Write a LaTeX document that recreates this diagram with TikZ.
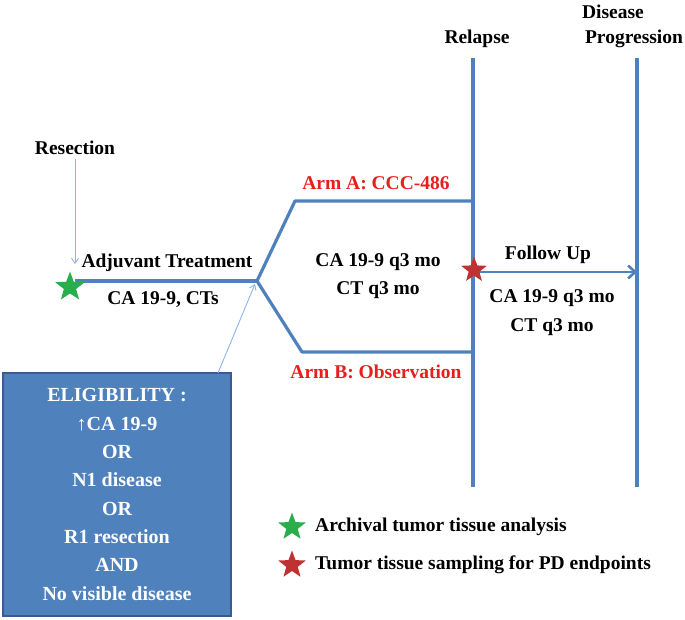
\documentclass[tikz,border=0pt]{standalone}
\usepackage{fontspec}
\setmainfont{Liberation Serif}
\usetikzlibrary{shapes.geometric,arrows.meta}
\definecolor{mainblue}{RGB}{79,129,189}
\definecolor{boxedge}{RGB}{56,93,138}
\definecolor{thinblue}{RGB}{142,180,227}
\definecolor{armred}{RGB}{230,30,30}
\definecolor{stargreen}{RGB}{40,175,75}
\definecolor{starred}{RGB}{190,50,50}
\tikzset{
  lbl/.style={font=\fontsize{19.5}{22}\selectfont\bfseries, inner sep=0pt, anchor=center},
  redlbl/.style={lbl, text=armred},
  mainline/.style={draw=mainblue, line width=3.2pt, line join=round},
  thinarrow/.style={draw=thinblue, line width=0.9pt, -{Straight Barb[length=5pt,width=7pt]}},
  starmark/.style={star, star points=5, star point ratio=2.4, minimum size=30pt, inner sep=0pt, draw=none},
  eligbox/.style={rectangle, fill=mainblue, draw=boxedge, line width=1.5pt, minimum width=228pt, minimum height=243pt, text=white, align=center, font=\fontsize{20}{28.3}\selectfont\bfseries}
}
\begin{document}
\begin{tikzpicture}[x=1pt,y=-1pt]
\useasboundingbox (0,0) rectangle (685,620);

% coordinates
\coordinate (start) at (75,281);
\coordinate (split) at (257,281);
\coordinate (aup) at (295,201);
\coordinate (aend) at (473,201);
\coordinate (bdn) at (302,352);
\coordinate (bend) at (473,352);
\coordinate (reltop) at (473,58);
\coordinate (relbot) at (473,487);
\coordinate (progtop) at (637,58);
\coordinate (progbot) at (637,487);
\coordinate (fustart) at (473,272);
\coordinate (fuend) at (637,272);

% relapse & progression lines
\draw[mainline] (reltop) -- (relbot);
\draw[mainline] (progtop) -- (progbot);

% main path
\draw[mainline] (start) -- (split);
\draw[mainline] (split) -- (aup) -- (aend);
\draw[mainline] (split) -- (bdn) -- (bend);
\draw[mainline, line width=2.6pt, -{Straight Barb[length=7pt,width=13pt]}] (fustart) -- (fuend);

% labels top
\node[lbl] (relapse) at (477,39) {Relapse};
\node[lbl] (disease) at (613,12) {Disease};
\node[lbl] (progression) at (634,39) {Progression};

% resection
\node[lbl] (resection) at (75,148) {Resection};
\coordinate (resend) at (75,264);
\draw[thinarrow] (resection.south) ++(0,4) -- (resend);

\node[starmark, fill=stargreen, minimum size=31pt] (gstar) at (70,287) {};
\node[lbl] (adjuvant) at (167,263) {Adjuvant Treatment};
\node[lbl] (ctsA) at (163,300) {CA 19-9, CTs};

% arms
\node[redlbl] (armA) at (376,183) {Arm A: CCC-486};
\node[redlbl] (armB) at (376,372) {Arm B: Observation};
\node[lbl] (midA) at (378,262) {CA 19-9 q3 mo};
\node[lbl] (midB) at (378,290) {CT q3 mo};

\node[starmark, fill=starred, minimum size=27pt] (rstar) at (474,270) {};

\node[lbl] (follow) at (548,255) {Follow Up};
\node[lbl] (fuA) at (552,298) {CA 19-9 q3 mo};
\node[lbl] (fuB) at (552,327) {CT q3 mo};

% eligibility box
\node[eligbox] (elig) at (117,494.5) {ELIGIBILITY :\\ ↑CA 19-9\\ OR\\ N1 disease\\ OR\\ R1 resection\\ AND\\ No visible disease};
\coordinate (eligend) at (255,284);
\draw[thinarrow] (218,373) -- (eligend);

% legend
\node[starmark, fill=stargreen, minimum size=29pt] (lgstar) at (292,527) {};
\node[lbl, anchor=west] (lgtext) at (315,527) {Archival tumor tissue analysis};
\node[starmark, fill=starred, minimum size=29pt] (lrstar) at (292,565) {};
\node[lbl, anchor=west] (lrtext) at (315,565) {Tumor tissue sampling for PD endpoints};
\end{tikzpicture}
\end{document}
